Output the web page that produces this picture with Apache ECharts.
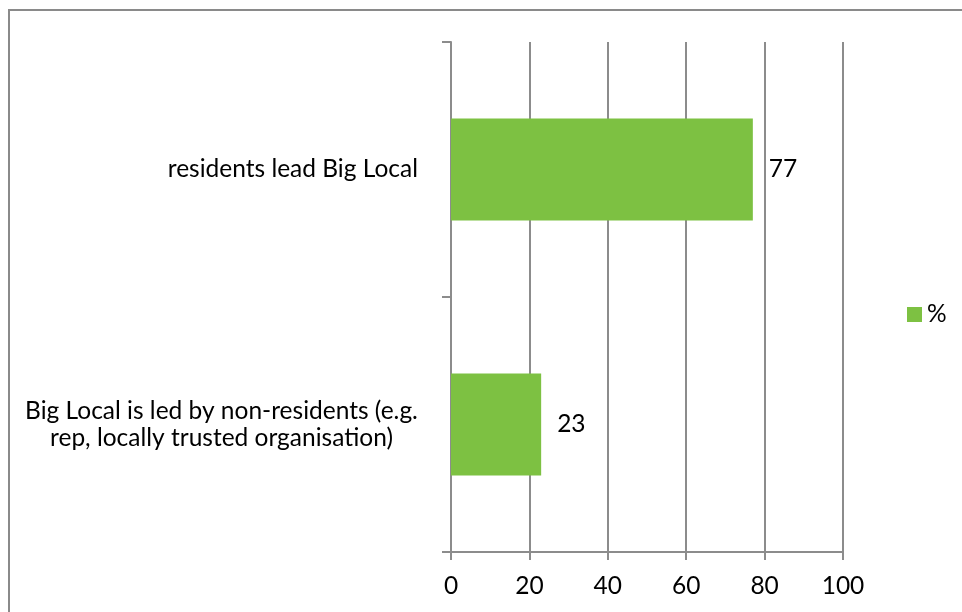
<!DOCTYPE html>
<html>
<head>
<meta charset="utf-8">
<script src="https://cdn.jsdelivr.net/npm/echarts@6/dist/echarts.min.js"></script>
<style>
html,body{margin:0;padding:0;background:#fff;}
#chart{width:962px;height:612px;}
</style>
</head>
<body>
<div id="chart"></div>
<script>
const categories = ['residents lead Big Local', 'Big Local is led by non-residents (e.g.\nrep, locally trusted organisation)'];
const values = [77, 23];
const seriesName = '%';
const xTicks = [0, 20, 40, 60, 80, 100];

const FONT = 'Lato';
const FS = 24.5;
const gridColor = '#8c8c8c';

// measure widest line of a multi-line label so its lines can be centred in a right-aligned block
const mctx = document.createElement('canvas').getContext('2d');
mctx.font = FS + 'px ' + FONT;
function widest(s) {
  return Math.max.apply(null, s.split('\n').map(function (l) { return mctx.measureText(l).width; }));
}

const chart = echarts.init(document.getElementById('chart'), null, {renderer: 'canvas'});
chart.setOption({
  backgroundColor: '#ffffff',
  animation: false,
  textStyle: {fontFamily: FONT},
  graphic: [{
    type: 'rect',
    shape: {x: 9, y: 10, width: 1000, height: 700},
    style: {fill: 'none', stroke: '#8a8a8a', lineWidth: 2},
    silent: true
  }],
  legend: {
    show: true,
    orient: 'vertical',
    left: 902,
    top: 297,
    itemWidth: 15,
    itemHeight: 15,
    icon: 'rect',
    textStyle: {fontFamily: FONT, fontSize: FS, color: '#000'},
    data: [seriesName]
  },
  grid: {left: 451, right: 119, top: 42, bottom: 60, containLabel: false},
  xAxis: {
    type: 'value',
    min: xTicks[0],
    max: xTicks[xTicks.length - 1],
    interval: xTicks[1] - xTicks[0],
    axisLine: {show: true, lineStyle: {color: gridColor, width: 2}},
    axisTick: {show: true, length: 8, lineStyle: {color: gridColor, width: 2}},
    splitLine: {show: true, lineStyle: {color: gridColor, width: 2}},
    axisLabel: {fontFamily: FONT, fontSize: FS, color: '#000', margin: 22}
  },
  yAxis: {
    type: 'category',
    inverse: true,
    data: categories,
    axisLine: {show: true, lineStyle: {color: gridColor, width: 2}},
    axisTick: {show: true, length: 9, lineStyle: {color: gridColor, width: 2}},
    axisLabel: {
      fontFamily: FONT, fontSize: FS, color: '#000', margin: 33,
      lineHeight: 27,
      formatter: function (v) {
        if (v.indexOf('\n') < 0) return v;
        return v.split('\n').map(function (l) { return '{c|' + l + '}'; }).join('\n');
      },
      rich: {c: {width: Math.ceil(widest(categories[1])), align: 'center', fontFamily: FONT, fontSize: FS, color: '#000', lineHeight: 27}}
    }
  },
  series: [{
    name: seriesName,
    type: 'bar',
    data: values,
    barCategoryGap: '60%',
    itemStyle: {color: '#7dc142'},
    label: {show: true, position: 'right', distance: 16, fontFamily: FONT, fontSize: FS, color: '#000'}
  }]
});
</script>
</body>
</html>
